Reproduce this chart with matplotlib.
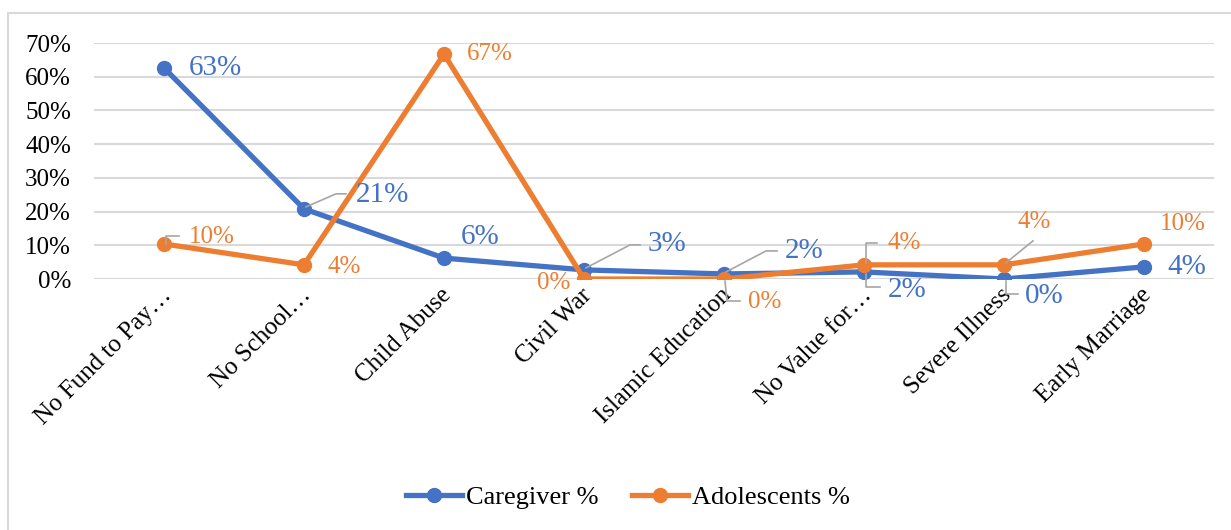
import matplotlib
matplotlib.use("Agg")
import matplotlib.pyplot as plt
import matplotlib.transforms as mtransforms
from matplotlib.lines import Line2D
from matplotlib.patches import Rectangle

# Reasons for not attending school, share of respondents
categories = ["No Fund to Pay…", "No School…", "Child Abuse", "Civil War",
              "Islamic Education", "No Value for…", "Severe Illness", "Early Marriage"]
caregiver = [0.626, 0.208, 0.062, 0.027, 0.015, 0.021, 0.0, 0.036]
adolescents = [0.104, 0.042, 0.667, 0.0, 0.0, 0.042, 0.042, 0.104]
y_ticks = [0.0, 0.1, 0.2, 0.3, 0.4, 0.5, 0.6, 0.7]

BLUE = "#4472C4"
ORANGE = "#ED7D31"
GRID = "#D9D9D9"
LEADER = "#A6A6A6"
SERIF = ["Liberation Serif", "DejaVu Serif"]

plt.rcParams["font.family"] = SERIF

fig = plt.figure(figsize=(12.31, 5.30), dpi=100)
ax = fig.add_axes([94 / 1231, 1 - 279 / 530, (1214 - 94) / 1231, (279 - 43) / 530])

# chart frame (left and top edges visible)
fig.patches.append(Rectangle((8 / 1231, -0.1), 1.2, 1 - 13 / 530 + 0.1,
                             transform=fig.transFigure, fill=False,
                             edgecolor="#D9D9D9", linewidth=1.5, zorder=0))

x = list(range(len(categories)))
ax.plot(x, caregiver, color=BLUE, lw=3.8, marker="o", ms=10,
        solid_joinstyle="round", zorder=3, label="Caregiver %")
ax.plot(x, adolescents, color=ORANGE, lw=3.8, marker="o", ms=10,
        solid_joinstyle="round", zorder=4, label="Adolescents %")

TICK_FS = 18
ax.set_xlim(-0.5, len(categories) - 0.5)
ax.set_ylim(0, 0.7)
ax.set_yticks(y_ticks)
ax.set_yticklabels([f"{int(round(v * 100))}%" for v in y_ticks], fontsize=TICK_FS)
ax.yaxis.grid(True, color=GRID, lw=1.5)
ax.set_axisbelow(True)
for s in ax.spines.values():
    s.set_visible(False)
ax.tick_params(axis="y", length=0, pad=16.5)
ax.tick_params(axis="x", length=0)
ax.set_xticks(x)
ax.set_xticklabels(categories, rotation=45, ha="right", va="center",
                   rotation_mode="anchor", fontsize=TICK_FS)
offset = mtransforms.ScaledTranslation(0.04, -0.08, fig.dpi_scale_trans)
for lbl in ax.get_xticklabels():
    lbl.set_transform(lbl.get_transform() + offset)


def pct(v):
    return f"{int(round(v * 100))}%"


def label(i, v, dx, dy, color, size, ha="left", leader=None):
    """Place a value label at a pixel offset from point i, with optional leader path."""
    ax.annotate(pct(v), (i, v), xytext=(dx, dy), textcoords="offset pixels",
                ha=ha, va="center", color=color, fontsize=size, zorder=6)
    if leader is not None:
        base = ax.transData.transform((i, v))
        pts = [(base[0] + px, base[1] + py) for px, py in leader]
        inv = ax.transData.inverted()
        data_pts = [inv.transform(p) for p in pts]
        ax.add_line(Line2D([p[0] for p in data_pts], [p[1] for p in data_pts],
                           color=LEADER, lw=1.2, zorder=5, clip_on=False))


CS, AS = 21, 18
# caregiver labels
label(0, caregiver[0], 25, 0, BLUE, CS)
label(1, caregiver[1], 52, 14, BLUE, CS, leader=[(2, 2), (32, 15), (42, 15)])
label(2, caregiver[2], 17, 21, BLUE, CS)
label(3, caregiver[3], 64, 26, BLUE, CS, leader=[(2, 2), (46, 25), (56, 25)])
label(4, caregiver[4], 61, 23, BLUE, CS, leader=[(2, 2), (42, 23), (53, 23)])
label(5, caregiver[5], 24, -18, BLUE, CS, leader=[(2, -2), (2, -15), (16, -15)])
label(6, caregiver[6], 21, -17, BLUE, CS, leader=[(2, -2), (2, -15), (14, -15)])
label(7, caregiver[7], 23, 0, BLUE, CS)

# adolescent labels
label(0, adolescents[0], 25, 7, ORANGE, AS, leader=[(2, 0), (2, 8), (15, 8)])
label(1, adolescents[1], 23, -2, ORANGE, AS)
label(2, adolescents[2], 23, 0, ORANGE, AS)
label(3, adolescents[3], -14, -4, ORANGE, AS, ha="right")
label(4, adolescents[4], 24, -23, ORANGE, AS, leader=[(1, -2), (3, -22), (16, -22)])
label(5, adolescents[5], 23, 22, ORANGE, AS, leader=[(2, 2), (2, 22), (13, 22)])
label(6, adolescents[6], 13, 43, ORANGE, AS, leader=[(2, 2), (29, 24)])
label(7, adolescents[7], 16, 20, ORANGE, AS)

handles = [Line2D([0], [0], color=BLUE, lw=3.8, marker="o", ms=10),
           Line2D([0], [0], color=ORANGE, lw=3.8, marker="o", ms=10)]
fig.legend(handles, ["Caregiver %", "Adolescents %"], loc="center",
           bbox_to_anchor=(628 / 1231, 1 - 497 / 530), ncol=2, frameon=False,
           fontsize=19, handlelength=2.1, handletextpad=0.15, columnspacing=1.3)

fig.savefig("out.png", dpi=100, facecolor="white")
